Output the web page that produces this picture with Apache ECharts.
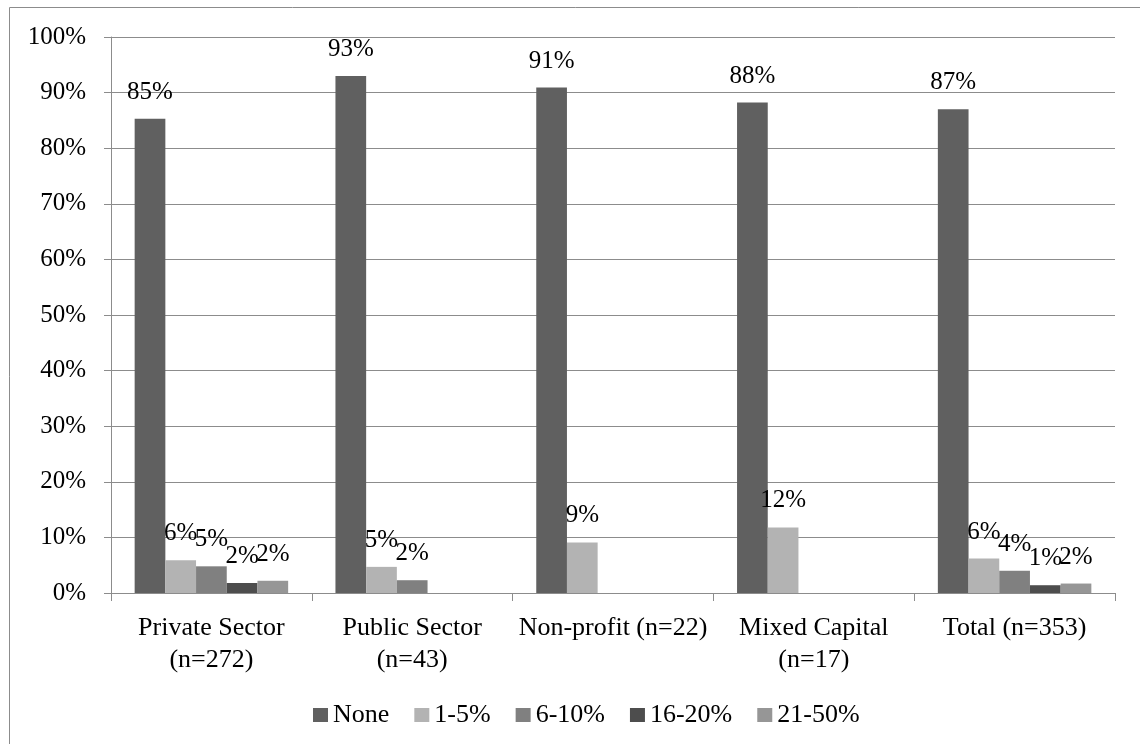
<!DOCTYPE html>
<html>
<head>
<meta charset="utf-8">
<script src="https://cdn.jsdelivr.net/npm/echarts@6/dist/echarts.min.js"></script>
<style>
html,body{margin:0;padding:0;background:#fff;}
#c{width:1140px;height:744px;}
</style>
</head>
<body>
<div id="c"></div>
<script>
const categories = ['Private Sector\n(n=272)', 'Public Sector\n(n=43)', 'Non-profit (n=22)', 'Mixed Capital\n(n=17)', 'Total (n=353)'];
const seriesNames = ['None', '1-5%', '6-10%', '16-20%', '21-50%'];
const noneVals = [85.3, 93.0, 90.9, 88.2, 87.0];
const v1to5 = [5.9, 4.7, 9.1, 11.8, 6.2];
const v6to10 = [4.8, 2.3, null, null, 4.0];
const v16to20 = [1.8, null, null, null, 1.4];
const v21to50 = [2.2, null, null, null, 1.7];
const yTicks = [0, 10, 20, 30, 40, 50, 60, 70, 80, 90, 100];

const colors = ['#606060', '#b3b3b3', '#808080', '#4d4d4d', '#969696'];
const FONT = "'Liberation Serif', 'Times New Roman', serif";
const values = [noneVals, v1to5, v6to10, v16to20, v21to50];

const chart = echarts.init(document.getElementById('c'));
chart.setOption({
  animation: false,
  backgroundColor: '#fff',
  color: colors,
  textStyle: {fontFamily: FONT, color: '#000'},
  graphic: [{
    type: 'rect',
    shape: {x: 9.5, y: 7.5, width: 1200, height: 800},
    style: {fill: 'none', stroke: '#8c8c8c', lineWidth: 1},
    silent: true
  }],
  grid: {left: 111, right: 25, top: 37, bottom: 151, containLabel: false},
  legend: {
    left: 308, top: 697,
    itemWidth: 15, itemHeight: 14, itemGap: 25,
    icon: 'rect',
    textStyle: {fontFamily: FONT, fontSize: 26, color: '#000'},
    data: seriesNames
  },
  xAxis: {
    type: 'category',
    data: categories,
    axisLine: {lineStyle: {color: '#8c8c8c', width: 1}},
    axisTick: {show: true, length: 8, lineStyle: {color: '#8c8c8c'}},
    axisLabel: {fontFamily: FONT, fontSize: 26, color: '#000', margin: 19, lineHeight: 32, interval: 0}
  },
  yAxis: {
    type: 'value',
    min: yTicks[0], max: yTicks[yTicks.length - 1], interval: 10,
    axisLine: {show: true, lineStyle: {color: '#8c8c8c', width: 1}},
    axisTick: {show: true, length: 7, lineStyle: {color: '#8c8c8c'}},
    splitLine: {lineStyle: {color: '#8c8c8c', width: 1}},
    axisLabel: {fontFamily: FONT, fontSize: 25, color: '#000', margin: 25, formatter: '{value}%'}
  },
  series: seriesNames.map((n, i) => ({
    name: n,
    type: 'bar',
    data: values[i],
    barWidth: 30.7,
    barGap: '0%',
    itemStyle: {color: colors[i]},
    label: {
      show: true, position: 'top', distance: 14,
      fontFamily: FONT, fontSize: 25, color: '#000',
      formatter: p => (p.value == null ? '' : Math.round(p.value) + '%')
    }
  }))
});
</script>
</body>
</html>
